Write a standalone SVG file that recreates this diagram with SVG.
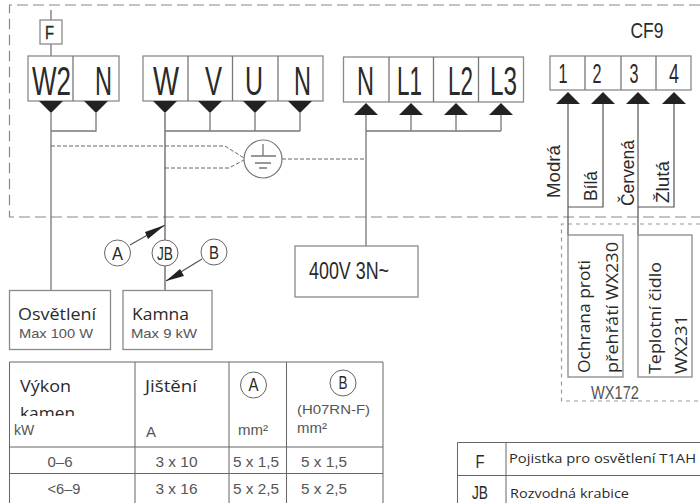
<svg xmlns="http://www.w3.org/2000/svg" width="700" height="503" viewBox="0 0 700 503">
<style>
text{font-family:"Liberation Sans",Arial,sans-serif;fill:#2a2a2a}
.cal{font-family:"Open Sans","Noto Sans",sans-serif}
.box{fill:#fff;stroke:#8a8a8a;stroke-width:1.3}
.ln{fill:none;stroke:#777;stroke-width:1.3}
.dk{fill:none;stroke:#555;stroke-width:1.2}
.dash{fill:none;stroke:#666;stroke-width:1;stroke-dasharray:4 2}
.big{font-size:41px}
.mid{font-size:27px}
.cc{fill:#fff;stroke:#666;stroke-width:1}
.tb{fill:none;stroke:#666;stroke-width:1}
.num{font-size:15px;fill:#555;text-anchor:middle}
.tri{fill:#222}
</style>
<defs>
<polygon id="td" class="tri" points="-12,0 12,0 0,12"/>
<polygon id="tu" class="tri" points="-12,12 12,12 0,0"/>
</defs>
<rect width="700" height="503" fill="#fff"/>
<path d="M700 5H9.500V217H700" fill="none" stroke="#888" stroke-width="1.200" stroke-dasharray="11 5"/>
<path d="M700 224H561.500V401H700" fill="none" stroke="#999" stroke-width="1.200" stroke-dasharray="4 4"/>

<g id="connectors">
<path class="ln" d="M51 10V56M51 113V290M96 113V131H51"/>
<path class="dk" d="M165 113V240M165 266V290"/>
<path class="ln" d="M165 131H300M210 113V131M255 113V131M300 113V131"/>
<path class="ln" d="M366 115V246M366 131H501M411 115V131M456 115V131M501 115V131"/>
<path class="dk" d="M568 103V235M568 207H603V103M638 103V235M638 207H674V103"/>
<path class="dash" d="M51 146H225L244 158M165 168H229L244 160M282 159H366"/>
<path class="dk" d="M130 245L165 225M202 259L166 281"/>
<polygon class="tri" points="165,225 148,239 145,232"/>
<polygon class="tri" points="166,281 180,269 184,276"/>
</g>

<g id="node-F"><rect class="box" x="40" y="20" width="22" height="24"/><text x="49.500" y="39" font-size="18" text-anchor="middle" textLength="9" lengthAdjust="spacingAndGlyphs" stroke="#2a2a2a" stroke-width="0.400">F</text></g>

<g id="node-w2n">
<rect class="box" x="28" y="56" width="91" height="45"/><path class="ln" d="M73 56V101"/>
<text class="big" x="32" y="95" textLength="39" lengthAdjust="spacingAndGlyphs">W2</text>
<text class="big" x="95" y="95" textLength="17" lengthAdjust="spacingAndGlyphs">N</text>
<use href="#td" x="51" y="101"/><use href="#td" x="96" y="101"/>
</g>

<g id="node-wvun">
<rect class="box" x="143" y="56" width="180" height="45"/><path class="ln" d="M188 56V101M232.500 56V101M278 56V101"/>
<text class="big" x="153" y="95" textLength="26" lengthAdjust="spacingAndGlyphs">W</text>
<text class="big" x="205" y="95" textLength="17" lengthAdjust="spacingAndGlyphs">V</text>
<text class="big" x="245" y="95" textLength="18" lengthAdjust="spacingAndGlyphs">U</text>
<text class="big" x="294" y="95" textLength="17" lengthAdjust="spacingAndGlyphs">N</text>
<use href="#td" x="165" y="101"/><use href="#td" x="210" y="101"/><use href="#td" x="255" y="101"/><use href="#td" x="300" y="101"/>
</g>

<g id="node-earth">
<circle cx="263" cy="159" r="19" fill="#fff" stroke="#777" stroke-width="1.200"/>
<path class="ln" d="M263 144V156M251 156H276M255 163H271M259 168H267"/>
</g>

<g id="node-supply">
<rect class="box" x="343.500" y="57" width="180" height="45"/><path class="ln" d="M389 57V102M433.500 57V102M478.500 57V102"/>
<text class="big" x="357" y="95" textLength="17" lengthAdjust="spacingAndGlyphs">N</text>
<text class="big" x="397" y="95" textLength="25" lengthAdjust="spacingAndGlyphs">L1</text>
<text class="big" x="448" y="95" textLength="25" lengthAdjust="spacingAndGlyphs">L2</text>
<text class="big" x="490" y="95" textLength="27" lengthAdjust="spacingAndGlyphs">L3</text>
<use href="#tu" x="366" y="103"/><use href="#tu" x="411" y="103"/><use href="#tu" x="456" y="103"/><use href="#tu" x="501" y="103"/>
</g>

<g id="node-cf9">
<text x="647" y="38" font-size="22" text-anchor="middle" textLength="33" lengthAdjust="spacingAndGlyphs">CF9</text>
<rect class="box" x="550" y="56" width="141" height="34"/><path class="ln" d="M585 56V90M621 56V90M656 56V90"/>
<text class="mid" x="563" y="83" text-anchor="middle" textLength="9" lengthAdjust="spacingAndGlyphs">1</text>
<text class="mid" x="597" y="83" text-anchor="middle" textLength="9" lengthAdjust="spacingAndGlyphs">2</text>
<text class="mid" x="634" y="83" text-anchor="middle" textLength="9" lengthAdjust="spacingAndGlyphs">3</text>
<text class="mid" x="674" y="83" text-anchor="middle" textLength="10" lengthAdjust="spacingAndGlyphs">4</text>
<use href="#tu" x="568" y="92"/><use href="#tu" x="603" y="92"/><use href="#tu" x="638" y="92"/><use href="#tu" x="674" y="92"/>
<text transform="translate(560 198) rotate(-90)" font-size="19" textLength="53" lengthAdjust="spacingAndGlyphs">Modrá</text>
<text transform="translate(597 201) rotate(-90)" font-size="18" textLength="30" lengthAdjust="spacingAndGlyphs">Bílá</text>
<text transform="translate(634 206) rotate(-90)" font-size="18" textLength="66" lengthAdjust="spacingAndGlyphs">Červená</text>
<text transform="translate(669 203) rotate(-90)" font-size="18" textLength="42" lengthAdjust="spacingAndGlyphs">Žlutá</text>
</g>

<g id="node-wx230">
<rect class="box" x="568" y="235" width="55" height="142"/>
<text class="cal" transform="translate(590 373) rotate(-90)" font-size="17" textLength="113" lengthAdjust="spacingAndGlyphs">Ochrana proti</text>
<text class="cal" transform="translate(618 373) rotate(-90)" font-size="17" textLength="131" lengthAdjust="spacingAndGlyphs">přehřátí WX230</text>
</g>
<g id="node-wx231">
<rect class="box" x="638" y="235" width="54" height="142"/>
<text class="cal" transform="translate(661 374) rotate(-90)" font-size="17" textLength="112" lengthAdjust="spacingAndGlyphs">Teplotní čidlo</text>
<text class="cal" transform="translate(687 374) rotate(-90)" font-size="17" textLength="59" lengthAdjust="spacingAndGlyphs">WX231</text>
</g>
<text x="615" y="399" font-size="19" style="fill:#555" text-anchor="middle" textLength="48" lengthAdjust="spacingAndGlyphs">WX172</text>

<g id="node-400v"><rect class="box" x="295" y="246" width="123" height="51"/><text x="309" y="279" font-size="24" textLength="80" lengthAdjust="spacingAndGlyphs">400V 3N~</text></g>

<g id="node-A"><circle class="cc" cx="117.500" cy="253" r="13"/><text x="117.500" y="260" font-size="19" text-anchor="middle" textLength="11" lengthAdjust="spacingAndGlyphs">A</text></g>
<g id="node-JB"><circle class="cc" cx="165" cy="253" r="13"/><text x="165" y="260" font-size="19" text-anchor="middle" textLength="16" lengthAdjust="spacingAndGlyphs">JB</text></g>
<g id="node-B"><circle class="cc" cx="214" cy="252" r="13"/><text x="214" y="259" font-size="19" text-anchor="middle" textLength="10" lengthAdjust="spacingAndGlyphs">B</text></g>

<g id="node-osvetleni"><rect class="box" x="9.500" y="290.500" width="101" height="59"/>
<text class="cal" x="18" y="320" font-size="16" textLength="78" lengthAdjust="spacingAndGlyphs">Osvětlení</text>
<text x="19" y="338" font-size="13.500" style="fill:#555" textLength="74" lengthAdjust="spacingAndGlyphs">Max 100 W</text></g>
<g id="node-kamna"><rect class="box" x="123" y="290.500" width="89" height="59"/>
<text class="cal" x="132" y="320" font-size="16" textLength="57" lengthAdjust="spacingAndGlyphs">Kamna</text>
<text x="131" y="338" font-size="13.500" style="fill:#555" textLength="66" lengthAdjust="spacingAndGlyphs">Max 9 kW</text></g>

<g id="table-power">
<text class="cal" x="20" y="392" font-size="17" textLength="51" lengthAdjust="spacingAndGlyphs">Výkon</text>
<text class="cal" x="20" y="419" font-size="17" textLength="55" lengthAdjust="spacingAndGlyphs">kamen</text>
<rect x="10" y="416" width="124" height="30" fill="#fff"/>
<path class="tb" d="M9.500 503V362H383V503M135 362V503M229 362V503M286.500 362V503M9.500 447H383M9.500 473.500H383"/>
<text x="14" y="435" font-size="14" style="fill:#555">kW</text>
<text class="cal" x="145" y="392" font-size="17" textLength="52" lengthAdjust="spacingAndGlyphs">Jištění</text>
<text x="146" y="437" font-size="15" style="fill:#555">A</text>
<circle class="cc" cx="253.500" cy="385" r="13"/><text x="253.500" y="391" font-size="18" text-anchor="middle" textLength="10" lengthAdjust="spacingAndGlyphs">A</text>
<circle class="cc" cx="343" cy="383" r="13"/><text x="343" y="389" font-size="18" text-anchor="middle" textLength="9" lengthAdjust="spacingAndGlyphs">B</text>
<text x="238" y="435" font-size="15" style="fill:#555">mm²</text>
<text x="297" y="414" font-size="13.500" style="fill:#555" textLength="73" lengthAdjust="spacingAndGlyphs">(H07RN-F)</text>
<text x="297" y="433" font-size="15" style="fill:#555">mm²</text>
<text class="num" x="60" y="467" textLength="25" lengthAdjust="spacingAndGlyphs">0–6</text><text class="num" x="176.500" y="467" textLength="42" lengthAdjust="spacingAndGlyphs">3 x 10</text><text class="num" x="256" y="467" textLength="46" lengthAdjust="spacingAndGlyphs">5 x 1,5</text><text class="num" x="324" y="467" textLength="46" lengthAdjust="spacingAndGlyphs">5 x 1,5</text>
<text class="num" x="64" y="494" textLength="33" lengthAdjust="spacingAndGlyphs">&lt;6–9</text><text class="num" x="176.500" y="494" textLength="42" lengthAdjust="spacingAndGlyphs">3 x 16</text><text class="num" x="256" y="494" textLength="46" lengthAdjust="spacingAndGlyphs">5 x 2,5</text><text class="num" x="324" y="494" textLength="46" lengthAdjust="spacingAndGlyphs">5 x 2,5</text>
</g>

<g id="table-legend">
<path class="tb" d="M700 442.500H457.500V503M506 442.500V503M457.500 475.500H700"/>
<text x="480" y="468" font-size="18" text-anchor="middle" textLength="9" lengthAdjust="spacingAndGlyphs">F</text>
<text x="480" y="499" font-size="18" text-anchor="middle" textLength="16" lengthAdjust="spacingAndGlyphs">JB</text>
<text class="cal" x="509" y="463" font-size="12" textLength="187" lengthAdjust="spacingAndGlyphs">Pojistka pro osvětlení  T1AH</text>
<text class="cal" x="510" y="498" font-size="12" textLength="119" lengthAdjust="spacingAndGlyphs">Rozvodná krabice</text>
</g>
</svg>
